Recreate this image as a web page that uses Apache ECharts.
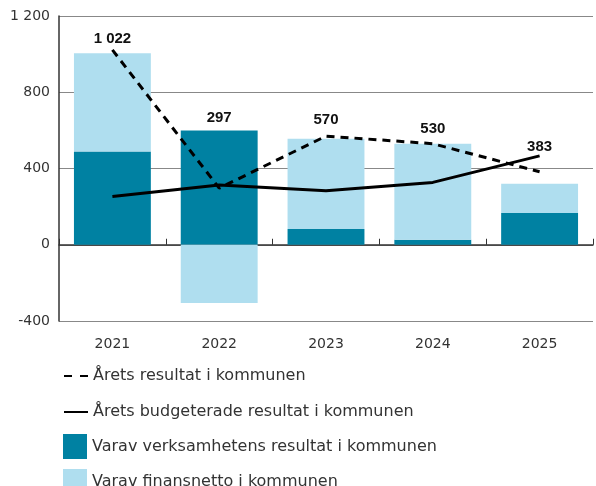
<!DOCTYPE html>
<html>
<head>
<meta charset="utf-8">
<script src="https://cdn.jsdelivr.net/npm/echarts@6/dist/echarts.min.js"></script>
<style>
  html, body { margin: 0; padding: 0; background: #fff; }
  #chart { width: 596px; height: 486px; }
</style>
</head>
<body>
<div id="chart"></div>
<script>
// data
var years = ['2021', '2022', '2023', '2024', '2025'];
var verksamhet = [489, 599, 82, 26, 166];     // dark bars
var finansnetto = [516, -306, 474, 504, 154]; // light bars (stacked)
var aretsResultat = [1022, 297, 570, 530, 383];     // dashed line
var budgeterat = [253, 314, 283, 327, 466];         // solid line

var names = [
    'Årets resultat i kommunen',
    'Årets budgeterade resultat i kommunen',
    'Varav verksamhetens resultat i kommunen',
    'Varav finansnetto i kommunen'
];

// label nudges (px) so the numbers sit where they do in the original
var labelShift = [-3, -62, -8, -7, -17];

function fmt(v) {
    return String(v).replace(/\B(?=(\d{3})+(?!\d))/g, ' ');
}

var myChart = echarts.init(document.getElementById('chart'));

// one legend per row, stacked by hand (a vertical legend would wrap into columns)
var rowTops = [361, 397, 429, 464];
var legends = names.map(function(n, i) {
    return {
        left: 58,
        top: rowTops[i],
        itemWidth: 24,
        itemHeight: 25,
        textStyle: {
            fontSize: 16,
            color: '#333',
            fontFamily: 'DejaVu Sans',
            padding: [7, 0, 0, 0]
        },
        lineStyle: { width: 2, type: i === 0 ? [8, 8] : 'solid' },
        data: i < 2 ? [n] : [{ name: n, icon: 'rect' }]
    };
});

var option = {
    animation: false,
    textStyle: { fontFamily: 'DejaVu Sans' },
    grid: {
        left: 59,
        top: 16,
        width: 534,
        height: 305
    },
    legend: legends,
    xAxis: {
        type: 'category',
        data: years,
        axisLine: { onZero: true, lineStyle: { color: '#333', width: 1.5 } },
        axisTick: { show: true, inside: true, length: 6, lineStyle: { color: '#333' } },
        axisLabel: {
            color: '#333',
            fontSize: 14,
            margin: 16
        }
    },
    yAxis: {
        type: 'value',
        min: -400,
        max: 1200,
        interval: 400,
        axisLine: { show: true, lineStyle: { color: '#333', width: 1.5 } },
        axisTick: { show: false },
        splitLine: { lineStyle: { color: '#888', width: 1 } },
        axisLabel: {
            color: '#333',
            fontSize: 14,
            margin: 9,
            formatter: function(v) { return fmt(v); }
        }
    },
    series: [{
        name: names[2],
        type: 'bar',
        stack: 'total',
        barWidth: '72%',
        data: verksamhet,
        itemStyle: { color: '#0081a2' },
        z: 2
    }, {
        name: names[3],
        type: 'bar',
        stack: 'total',
        barWidth: '72%',
        data: finansnetto,
        itemStyle: { color: '#afdeef' },
        z: 2
    }, {
        name: names[1],
        type: 'line',
        data: budgeterat,
        symbol: 'none',
        lineStyle: { color: '#000', width: 3 },
        itemStyle: { color: 'rgba(0,0,0,0)' },
        z: 5
    }, {
        name: names[0],
        type: 'line',
        symbol: 'circle',
        symbolSize: 1,
        showSymbol: true,
        data: aretsResultat.map(function(v, i) {
            return {
                value: v,
                label: { offset: [0, labelShift[i]] }
            };
        }),
        lineStyle: { color: '#000', width: 3, type: [8, 6] },
        itemStyle: { color: 'rgba(0,0,0,0)' },
        label: {
            show: true,
            position: 'top',
            distance: 0,
            color: '#111',
            fontFamily: 'Liberation Sans',
            fontWeight: 'bold',
            fontSize: 15,
            formatter: function(p) { return fmt(p.value); }
        },
        z: 6
    }]
};

myChart.setOption(option);
</script>
</body>
</html>
